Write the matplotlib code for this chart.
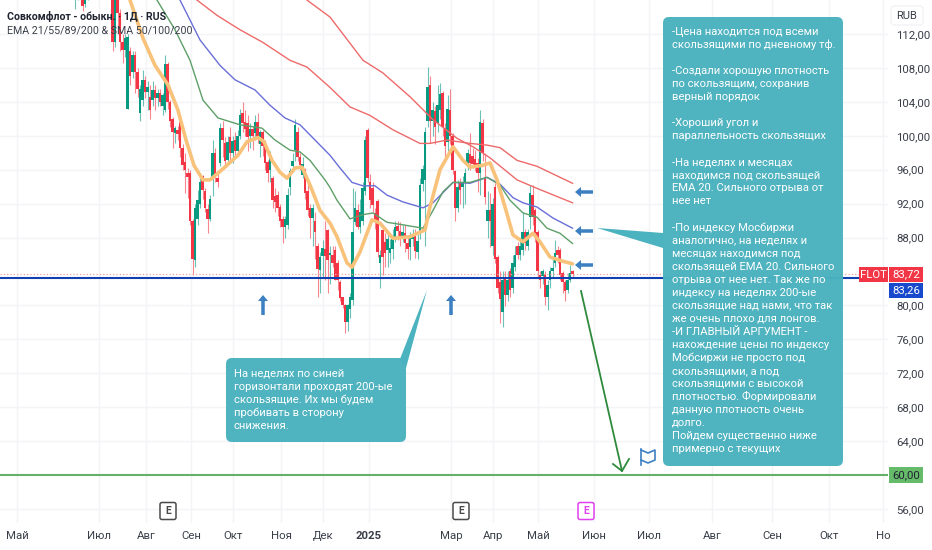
# -*- coding: utf-8 -*-
import numpy as np
import matplotlib
matplotlib.use('Agg')
import matplotlib.pyplot as plt
from matplotlib.patches import FancyBboxPatch, Polygon, FancyArrow, Rectangle

plt.rcParams['font.family'] = ['Roboto', 'Noto Sans', 'DejaVu Sans']

### Data ######################################################################

opens = [116.2,116.9,117.5,116.5,115.5,116.5,118,119,118.5,120,119,120.5,119.5,119,118,
         118,111,116.5,114.5,111,110.1,103.2,110,107.5,109.5,107.5,102.7,104.2,106.6,105.2,
         104.6,104.2,105.4,104.5,105,103.5,103,108.5,104,102,100.3,100.7,101.6,98.6,96.9,
         95.6,95.6,90,85.3,90.2,92,95.2,93.5,91.4,90.2,95,98,95,96.8,100.9,
         99.2,97.2,99.8,98,99.5,98.2,100,102.7,101.6,101.5,100,100.8,100.3,101.6,99,
         100.5,99,96.9,96,95,92.9,93,91.6,90.2,89.2,89.5,94,96.4,98.3,100.4,
         97.5,95.4,96,93.5,91.5,90.3,90,87,84.2,85.8,86.6,88.9,86,86,86.5,
         85,82.8,81,80,78,79.6,80.6,89.8,91.2,89.3,90,93.5,100.7,94.5,93.8,
         90.9,92.3,85,88.9,87.5,86.5,86.2,86.6,88,89.4,88.8,88,88.5,87.4,86.9,
         87.8,88.2,86.3,88.4,94.3,94.8,101.8,106,101.8,102.9,101.5,103,105,100.9,99.3,
         103,100,95.9,91.5,94.6,94,94.4,96.5,97.9,97.6,97.3,96.8,95.6,101.5,95,
         90,91.2,87,94,85.7,82.8,79.2,83.3,81.2,84,82,84.5,87,86,86.5,
         88.7,87,90.4,93,91.2,88.6,83.6,83.5,83.6,81,83,84,85,86.5,86.5,
         83.8,82.7,81.8,83,84]
closes = [116.9,117.5,116.8,115.3,116.5,118,119,118.5,120,119,120.5,119.5,119,118,118.5,
          111,116.5,114.5,111,110.1,111.5,111.6,107,109.5,107.5,105.5,105.5,106.6,105.2,105.8,
          103,105.4,104.5,105,104,104.8,108.5,104,101.8,100.4,100.9,100.2,98.6,96.5,96,
          95.1,90,85.5,91.5,92.4,94.6,93.6,91.5,90.2,92.6,98,95.2,94.6,100.9,99.5,
          97,99.3,98,99.4,98.2,100,102.5,101.5,100.8,99.9,100.8,100,101.6,99.9,100.5,
          98.8,96.8,95.6,97.8,92.4,92.2,91.5,90,89.2,90.2,93,95.8,97,101.3,97.5,
          96.5,96.7,93.3,91.3,90.3,91.5,88.7,84.3,85.7,86.8,85.8,85.3,86.2,85,83,
          83,80.9,80,78,80,81,88.6,91.5,89.2,91,93.9,99.5,95,92.4,91.8,
          90,86.3,86,85.7,86.2,87.8,86.8,88,89.2,88.8,88,88.6,87.3,86.7,88,
          88.2,86.4,87.6,94.2,96.1,100.5,105.8,101.8,103,101,103.6,104.9,101,98.8,103.1,
          100,96,91.5,94,93.6,94.5,95.6,98,96.8,96.7,96.4,95.6,101.6,98,92.8,
          91.2,90,92,85.5,82,80.7,83,81.2,83,81.8,85,86,86,87,88.6,
          87.3,88.6,93.2,90.4,88.5,84,83,84,81,82.4,84,84.4,86.2,86,83.6,
          82.7,81.7,83,83.8,83.72]
highs = [117.5,118,118,117,117,118.5,120,120,121,121,121,121,120,119.5,119,
         118.5,117,117,115,112,112,112,110.5,110,110,108,106,107.7,107,106.5,
         106,106.5,106,105.5,105.5,105,109.5,108.7,104.2,102.2,101.2,101.2,101.8,99,98,
         96.2,96,90.2,92,93.6,95,95.4,93.8,92,93,99.5,98.5,95.5,101.5,101.8,
         99.8,100,101,100,100.5,100.7,103.2,104,103,102.5,101.5,101.2,102.5,102.7,100.7,
         100.7,99.5,97.2,98.2,95.3,93.8,93.5,92,90.5,90.5,93.8,96.2,98,102,101,
         98,97.5,96.2,94.8,92,92,91,87.3,86.3,87.7,90,89,87,87,87,
         85.3,83,81,80.2,80.2,81.5,93.9,93.5,92,92.5,94.5,100,100.9,95.5,94.5,
         91.5,92.5,86.5,89.5,88.5,88.5,87.8,89,90,90,89.8,89.5,89.5,88,88.6,
         89,89,88.4,95,96.5,101,108.1,107,104,103.5,106,106.2,105.3,101.5,104.8,
         105.5,100.3,96,94.8,95,95.2,96.2,98.4,100.3,98.5,98.3,97.4,103,102,98,
         93.5,93.2,92.7,94.4,86,84,84,84,84,84.4,86,87,87.5,88,91,
         89,89,94.2,94.2,91.5,88.9,84,84.3,84,83,84.5,85.5,87.7,87,86.8,
         84,83,83.8,84.8,84.2]
lows = [115,116,116.2,114.7,115.2,116,117.5,118,118,118.5,118.5,119,118.5,117.5,117,
        110,110.5,112,110,108.6,109.3,103.2,106,106.8,105,104.6,101.7,103.5,104.5,103,
        102,103.5,103,103.5,103.5,102.5,102.8,103.2,101,98.5,99.2,99.5,97.5,96,93.3,
        92.7,89.5,83.6,84.5,89.5,91.5,92.5,91,88.5,90,92.9,94.5,94,96.4,97.5,
        96.5,96.5,97,96.8,97.5,97.8,99.6,100.5,100,98.2,98.5,98.3,99.5,99.2,97.5,
        97.6,96,94.5,94.5,91.5,91,90.5,89.2,87.4,88,89,93,95.9,97,97,
        96,95,92.5,90.5,88,87,85.5,81,81.5,83.2,83,81.5,82.5,84.5,83,
        81.8,80.5,79.7,76.7,77,78.5,80,89.5,89,88.5,89.5,93,94.5,91.5,91,
        89,85.7,82,83.6,84.5,84.5,85,85.5,87.5,87.7,87,87.5,86.3,85.5,85.4,
        87,85.6,85.5,87.8,93.5,87,101,99.2,100,99,100.5,102,100,97,98.2,
        99,95.5,90,91,92,91.5,92,96,96,96.2,95.8,93.4,93,97,92,
        88,86.9,86,85,81.5,77.9,77.5,79.9,80.5,81,81.5,84,85.5,85.3,86,
        86.5,86.5,89,89.5,87.5,83.3,82,82.5,80,79.5,82,83.3,84.5,85,83,
        81.5,80.5,81.5,82.8,83.4]

ema21_x = [22,27.2,32,37.2,41.2,44.4,47.6,51.2,54,58.8,65.2,68.8,73.2,75.6,78.8,82,84.8,88,90.8,94,98,102,
           104.8,108.8,110.8,114,118.8,122,127.2,134,140,142,146,151.2,155.2,158,162.8,166,168.8,172,175.2,179.2,
           183.2,186,190,194,199]
ema21 = [116,111.5,108.3,106,103,99.5,96.5,94.8,94.8,96,97.7,99.3,99.8,99.3,97.1,95.7,95,96.2,96.3,94.2,91.2,89.7,
         88.1,85,84.5,86.3,90.1,89.7,87.9,88.1,88.9,91.6,96,98.7,97.1,96.3,96.5,96.8,94.8,91.6,88.3,87.5,
         88.5,87.5,85.7,85.3,84.9]
ema55_x = [32.8,40,46,51.2,57.2,66,74.8,80,86,90,94,100,102,104.8,110,115.2,119.2,124.8,131.2,139.2,143.2,147.2,
           151.2,158,164.8,170,174,179.2,184.8,188.8,194,199]
ema55 = [116,112.5,108.9,104.2,102.1,101.3,100.9,99.5,98.3,98.1,97.1,94.8,93.9,92.4,90.2,90.7,90.9,89.8,89.5,89.1,91.2,93.4,
         94.5,94.5,95.1,94.2,92.4,90.9,90.4,89.1,88.5,87.3]
ema89_x = [42,50,58,64,72,78,84,90,96,102,106,110.8,115.2,120,124.8,131.2,139.2,143.2,151.2,158,164.8,170,175.2,
           179.2,184.8,191.2,199]
ema89 = [116,111.3,108.3,106.6,105.4,103.6,102.1,101.3,99.5,97.7,96.2,94.5,94.1,94.1,93,92.2,91.5,92.1,94.5,94.4,95.1,94.3,92.7,
         92.1,91.6,90.3,89.1]
sma100_x = [48.8,56.8,66,75.2,86,92.8,102,110,118,127.2,138,142,148.8,158,164.8,170,176.8,184.8,199]
sma100 = [116,114.2,112.5,111,108.9,108.1,105.7,103.4,102.4,100.7,99.1,99.1,99.5,99.1,98.9,98.6,97.1,96.4,94.4]
sma200_x = [92.8,102,115.2,123.2,134,143.2,152.8,159.2,166,176.8,184.8,199]
sma200 = [116,114,108.9,107.4,104.6,101.9,99.7,98.7,97.4,94.8,93.8,92.1]

month_pos = [-23.2,9.6,28.4,46.4,63.2,82.4,99.2,117.6,150.4,167.2,185.2,207.6,229.6,254.8,278.8,301.6,323.2]
month_labels = ['Май','Июл','Авг','Сен','Окт','Ноя','Дек','2025','Мар','Апр','Май','Июн','Июл','Авг','Сен','Окт','Но']
price_ticks = [56,64,68,72,76,80,88,92,96,100,104,108,112]

last_price = 83.72
blue_level = 83.26
green_level = 60.00

note_big = """-Цена находится под всеми
скользящими по дневному тф.

-Создали хорошую плотность
по скользящим, сохранив
верный порядок

-Хороший угол и
параллельность скользящих

-На неделях и месяцах
находимся под скользящей
EMA 20. Сильного отрыва от
нее нет

-По индексу Мосбиржи
аналогично, на неделях и
месяцах находимся под
скользящей EMA 20. Сильного
отрыва от нее нет. Так же по
индексу на неделях 200-ые
скользящие над нами, что так
же очень плохо для лонгов.
-И ГЛАВНЫЙ АРГУМЕНТ -
нахождение цены по индексу
Мобсиржи не просто под
скользящими, а под
скользящими с высокой
плотностью. Формировали
данную плотность очень
долго.
Пойдем существенно ниже
примерно с текущих"""

note_small = """На неделях по синей
горизонтали проходят 200-ые
скользящие. Их мы будем
пробивать в сторону
снижения."""

### Colours ###################################################################

up_color = '#089981'
down_color = '#f23645'
grid_color = '#f3f4f7'
text_color = '#3a3e49'
teal = '#4bb2bf'
arrow_blue = '#3c80c2'

### Chart #####################################################################

fig = plt.figure(figsize=(9.32, 5.5), dpi=100)
ax = fig.add_axes([0, 27 / 550, 888 / 932, 523 / 550])
ax.set_xlim(-30, 325.2)
ax.set_ylim(54.34, 116.01)

for s in ax.spines.values():
    s.set_visible(False)

ax.set_yticks(price_ticks)
ax.set_yticklabels(['%d,00' % p for p in price_ticks])
ax.yaxis.tick_right()
ax.set_xticks(month_pos)
ax.set_xticklabels(month_labels)
ax.tick_params(axis='both', length=0, labelsize=8.2, labelcolor=text_color)
ax.tick_params(axis='y', pad=6)
ax.tick_params(axis='x', pad=6)
ax.get_xticklabels()[7].set_fontweight('bold')
ax.grid(True, color=grid_color, linewidth=1)
ax.set_axisbelow(True)

opens = np.array(opens)
closes = np.array(closes)
highs = np.array(highs)
lows = np.array(lows)
bars = np.arange(len(opens))
colors = np.where(closes >= opens, up_color, down_color)

ax.vlines(bars, lows, highs, colors=colors, linewidth=0.8, alpha=0.6, zorder=2)
ax.bar(bars, closes - opens, bottom=opens, width=0.9, color=colors, linewidth=0, zorder=3)

ax.plot(sma200_x, sma200, color='#ee6a6a', linewidth=1, zorder=4)
ax.plot(sma100_x, sma100, color='#ee6a6a', linewidth=1, zorder=4)
ax.plot(ema89_x, ema89, color='#6a6fd8', linewidth=1, zorder=4)
ax.plot(ema55_x, ema55, color='#5f9f68', linewidth=1, zorder=4)
ax.plot(ema21_x, ema21, color='#f9c27a', linewidth=2.6, zorder=4, solid_capstyle='round')

ax.axhline(last_price, color='#f2a0a0', linewidth=0.9, linestyle=':', zorder=4)
ax.axhline(blue_level, color='#1040b0', linewidth=1.5, zorder=4)
ax.axhline(green_level, color='#63b267', linewidth=1.5, zorder=4)

### Drawings, in pixels of the picture ########################################

ov = fig.add_axes([0, 0, 1, 1], zorder=10)
ov.set_xlim(0, 932)
ov.set_ylim(550, 0)
ov.axis('off')
ov.patch.set_alpha(0)

ov.text(7, 16, 'Совкомфлот - обыкн. · 1Д · RUS', fontsize=7.6, fontweight='bold', color='#202430', va='center')
ov.text(7, 31, 'EMA 21/55/89/200 & SMA 50/100/200', fontsize=7.7, color='#3a3e49', va='center')

def note_box(x0, y0, x1, y1, tail, text, tx, ty):
    ov.add_patch(FancyBboxPatch((x0 + 6, y0 + 6), x1 - x0 - 12, y1 - y0 - 12, boxstyle='round,pad=6,rounding_size=6',
                                facecolor=teal, edgecolor='none', alpha=0.98, zorder=5))
    ov.add_patch(Polygon(tail, closed=True, facecolor=teal, edgecolor='none', zorder=5))
    # one text per line, the line pitch of a multi-line text jumps with the font size
    for i, line in enumerate(text.split('\n')):
        ov.text(tx, ty + 13.03 * i, line, color='white', fontsize=8.1, va='center', zorder=6)

note_box(663, 17, 843, 466, [(597, 228), (663, 233), (663, 248)], note_big, 672, 32)
note_box(226, 358, 406, 442, [(400, 359), (427, 290), (406, 368)], note_small, 234, 374)

for y in [192, 231, 265]:
    ov.add_patch(FancyArrow(593, y, -18, 0, width=3.5, head_width=10, head_length=6,
                            length_includes_head=True, color=arrow_blue, linewidth=0))
for x in [263, 451]:
    ov.add_patch(FancyArrow(x, 315, 0, -20, width=3.5, head_width=10, head_length=6,
                            length_includes_head=True, color=arrow_blue, linewidth=0))

ov.plot([581, 622], [291, 471], color='#2f8a3c', linewidth=1.3)
ov.plot([613, 622, 629], [464, 471, 459], color='#2f8a3c', linewidth=1.3)

ov.plot([641, 641], [449, 465], color=arrow_blue, linewidth=1.2)
ov.plot([641, 648, 655, 655, 648, 641], [450, 453, 450, 460, 463, 460], color=arrow_blue, linewidth=1.2)

for x, c in [(168, '#4a4a4a'), (461, '#4a4a4a'), (586, '#e040f0')]:
    ov.add_patch(FancyBboxPatch((x - 6.5, 504), 13, 14, boxstyle='round,pad=1.5,rounding_size=2',
                                facecolor='white', edgecolor=c, linewidth=1.1))
    ov.text(x, 511, 'E', color=c, fontsize=7.5, fontweight='bold', ha='center', va='center')

ov.add_patch(FancyBboxPatch((893, 8), 28, 15, boxstyle='round,pad=2,rounding_size=3',
                            facecolor='white', edgecolor='#f0f0f3', linewidth=0.8))
ov.text(907, 16, 'RUB', color=text_color, fontsize=8, ha='center', va='center')

def price_tag(x0, x1, y0, y1, color, text, text_c):
    ov.add_patch(Rectangle((x0, y0), x1 - x0, y1 - y0, facecolor=color, edgecolor='none'))
    ov.text((x0 + x1) / 2, (y0 + y1) / 2, text, color=text_c, fontsize=8.2, ha='center', va='center')

price_tag(859, 888, 267, 282, '#f23645', 'FLOT', 'white')
price_tag(889, 923, 267, 282, '#f23645', ('%.2f' % last_price).replace('.', ','), 'white')
price_tag(889, 923, 283, 298, '#1848cc', ('%.2f' % blue_level).replace('.', ','), 'white')
price_tag(889, 923, 467, 483, '#66bb6a', ('%.2f' % green_level).replace('.', ','), '#202430')

fig.savefig('out.png', dpi=100)
